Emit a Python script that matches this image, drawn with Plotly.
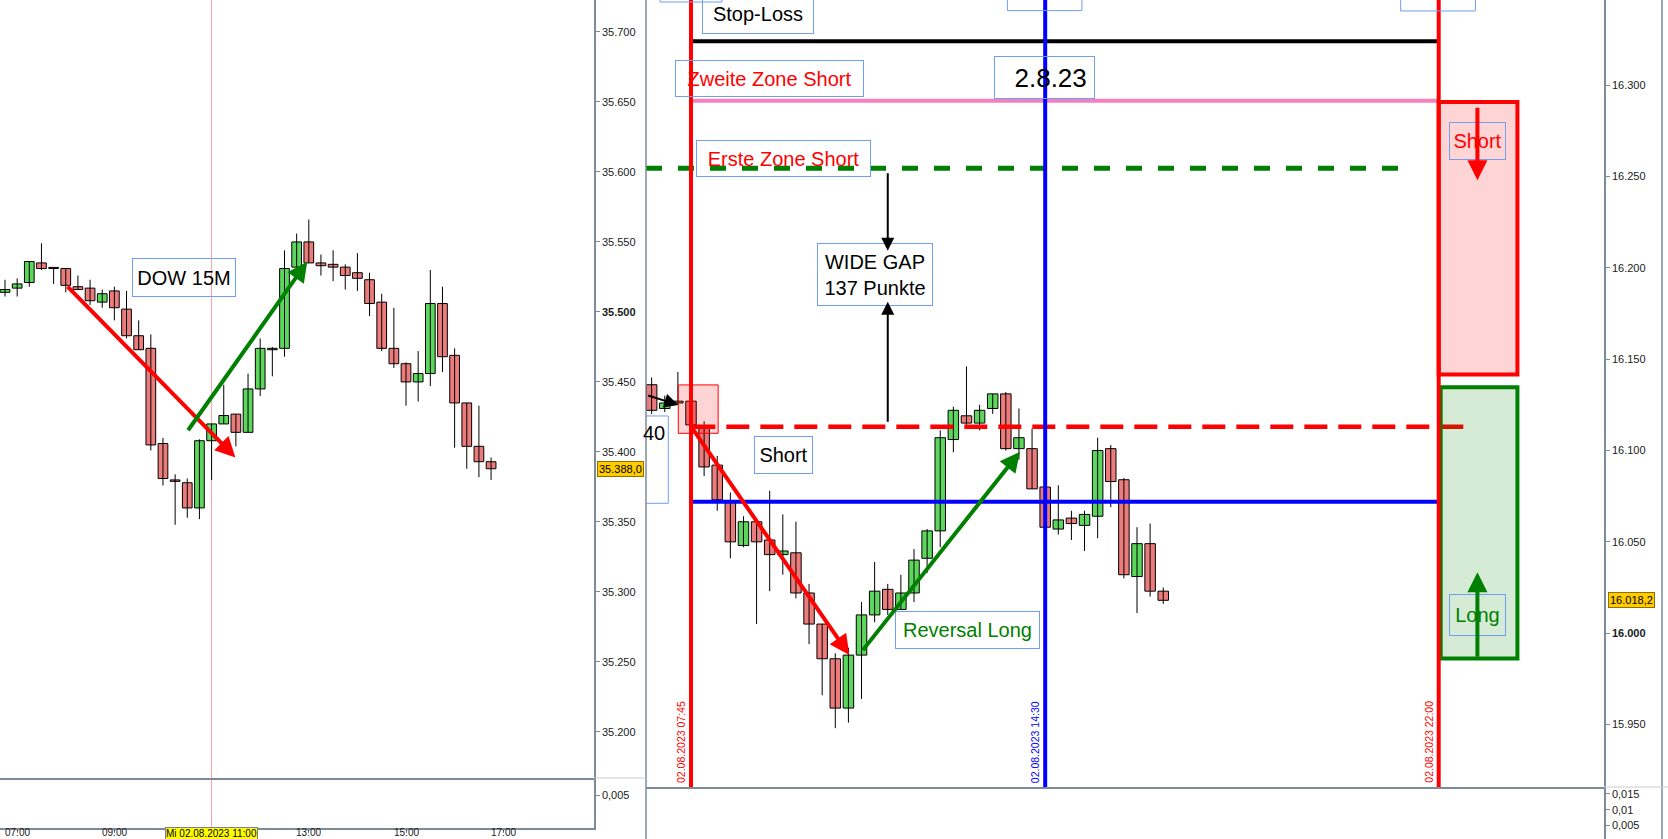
import plotly.graph_objects as go

# ---------------- data ----------------
dow_times = ["06:45", "07:00", "07:15", "07:30", "07:45", "08:00", "08:15", "08:30", "08:45",
             "09:00", "09:15", "09:30", "09:45", "10:00", "10:15", "10:30", "10:45", "11:00",
             "11:15", "11:30", "11:45", "12:00", "12:15", "12:30", "12:45", "13:00", "13:15",
             "13:30", "13:45", "14:00", "14:15", "14:30", "14:45", "15:00", "15:15", "15:30",
             "15:45", "16:00", "16:15", "16:30", "16:45"]
dow_open = [35514, 35517, 35521, 35535, 35531, 35531, 35518, 35517, 35507, 35515, 35502, 35483, 35474,
            35406, 35380, 35378, 35360, 35408, 35420, 35427, 35414, 35445, 35473, 35474, 35532, 35550,
            35535, 35534, 35532, 35528, 35523, 35507, 35474, 35463, 35450, 35456, 35506, 35469, 35435,
            35404, 35393]
dow_high = [35523, 35524, 35536, 35549, 35532, 35531, 35526, 35523, 35516, 35518, 35515, 35494, 35484,
            35410, 35384, 35381, 35409, 35420, 35448, 35427, 35456, 35481, 35475, 35544, 35556, 35566,
            35541, 35544, 35534, 35542, 35528, 35513, 35503, 35464, 35472, 35530, 35518, 35474, 35435,
            35433, 35396]
dow_low = [35511, 35511, 35518, 35530, 35520, 35514, 35516, 35505, 35503, 35494, 35481, 35473, 35401,
           35376, 35348, 35353, 35352, 35380, 35420, 35404, 35414, 35440, 35454, 35468, 35532, 35535,
           35526, 35522, 35516, 35515, 35497, 35472, 35460, 35433, 35436, 35447, 35457, 35403, 35388,
           35382, 35380]
dow_close = [35516, 35520, 35536, 35531, 35531, 35519, 35516, 35508, 35513, 35503, 35483, 35473, 35405,
             35381, 35379, 35360, 35408, 35420, 35426, 35414, 35445, 35474, 35474, 35531, 35550, 35535,
             35533, 35532, 35526, 35524, 35506, 35474, 35463, 35450, 35456, 35506, 35468, 35435, 35404,
             35393, 35388]

ndx_times = ["07:00", "07:15", "07:30", "07:45", "08:00", "08:15", "08:30", "08:45", "09:00", "09:15",
             "09:30", "09:45", "10:00", "10:15", "10:30", "10:45", "11:00", "11:15", "11:30", "11:45",
             "12:00", "12:15", "12:30", "12:45", "13:00", "13:15", "13:30", "13:45", "14:00", "14:15",
             "14:30", "14:45", "15:00", "15:15", "15:30", "15:45", "16:00", "16:15", "16:30", "16:45"]
ndx_open = [16136, 16123, 16126, 16127, 16113, 16092, 16072, 16048, 16061, 16051, 16043, 16044, 16022,
            16005, 15986, 15959, 15988, 16010, 16024, 16013, 16022, 16041, 16056, 16106, 16119, 16115,
            16123, 16131, 16101, 16101, 16080, 16057, 16063, 16059, 16064, 16101, 16084, 16031, 16049,
            16023]
ndx_high = [16140, 16130, 16143, 16128, 16116, 16097, 16077, 16064, 16061, 16078, 16065, 16061, 16027,
            16005, 15989, 15992, 16017, 16039, 16027, 16032, 16046, 16057, 16111, 16124, 16146, 16125,
            16131, 16132, 16123, 16112, 16080, 16081, 16067, 16067, 16107, 16103, 16085, 16058, 16060,
            16025]
ndx_low = [16120, 16121, 16125, 16113, 16086, 16067, 16041, 16047, 16005, 16023, 16032, 16019, 15994,
           15966, 15948, 15951, 15964, 16006, 16010, 16013, 16017, 16033, 16047, 16099, 16114, 16111,
           16120, 16100, 16095, 16079, 16058, 16054, 16051, 16045, 16052, 16069, 16030, 16011, 16020,
           16016]
ndx_close = [16122, 16126, 16127, 16114, 16091, 16073, 16050, 16061, 16050, 16043, 16045, 16022, 16005,
             15986, 15959, 15988, 16010, 16023, 16013, 16022, 16040, 16056, 16107, 16122, 16115, 16122,
             16131, 16101, 16107, 16079, 16058, 16062, 16060, 16065, 16100, 16083, 16032, 16049, 16023,
             16018]

dow_tick_times = ["07:00", "09:00", "13:00", "15:00", "17:00"]
dow_tick_text = ["07:00", "09:00", "13:00", "15:00", "17:00"]
cursor_time = "11:00"
cursor_label = "Mi 02.08.2023 11:00"
dow_y_ticks = [35200, 35250, 35300, 35350, 35400, 35450, 35500, 35550, 35600, 35650, 35700]
ndx_y_ticks = [15950, 16000, 16050, 16100, 16150, 16200, 16250, 16300]

event_times = ["07:45", "14:30", "22:00"]
event_labels = ["02.08.2023 07:45", "02.08.2023 14:30", "02.08.2023 22:00"]

stop_loss = 16324
zone2_short = 16291.5
zone1_short = 16254.5
gap_level = 16113
blue_level = 16072
short_zone = (16141.6, 16290.7)
long_zone = (15986.2, 16134.6)
entry_box = (16109.4, 16135.9)
dow_last = 35388.0
ndx_last = 16018.2

FONT = "Liberation Sans, Arial, sans-serif"
RED_BODY = "#ec7b7b"
GREEN_BODY = "#5cd65c"
AXIS_GRAY = "#7d8b99"
BOX_BORDER = "#6f9ff2"

W, H = 1668, 839


def t2m(t):
    h, m = t.split(":")
    return int(h) * 60 + int(m)


def dow_x(t):
    return (t2m(t) - t2m("06:30")) / 15.0


def ndx_x(t):
    return (t2m(t) - t2m("07:45")) / 15.0


def candle_traces(xs, o, h, l, c, xa, ya, min_h):
    wx, wy = [], []
    for x, hi, lo in zip(xs, h, l):
        wx += [x, x, None]
        wy += [lo, hi, None]
    wicks = go.Scatter(x=wx, y=wy, mode="lines", line=dict(color="black", width=1),
                       xaxis=xa, yaxis=ya, hoverinfo="skip", showlegend=False)
    base = [min(a, b) for a, b in zip(o, c)]
    height = [max(abs(b - a), min_h) for a, b in zip(o, c)]
    cols = [GREEN_BODY if b > a else RED_BODY for a, b in zip(o, c)]
    bodies = go.Bar(x=xs, y=height, base=base, width=0.8,
                    marker=dict(color=cols, line=dict(color="black", width=1)),
                    xaxis=xa, yaxis=ya, hoverinfo="skip", showlegend=False)
    return [wicks, bodies]


dx = [dow_x(t) for t in dow_times]
nx = [ndx_x(t) for t in ndx_times]

fig = go.Figure()
for tr in candle_traces(dx, dow_open, dow_high, dow_low, dow_close, "x", "y", 0.8):
    fig.add_trace(tr)
for tr in candle_traces(nx, ndx_open, ndx_high, ndx_low, ndx_close, "x3", "y3", 0.6):
    fig.add_trace(tr)
fig.add_trace(go.Scatter(x=[None], y=[None], xaxis="x2", yaxis="y2", showlegend=False))
fig.add_trace(go.Scatter(x=[None], y=[None], xaxis="x4", yaxis="y4", showlegend=False))

# ---------------- geometry ----------------
left_dom = [0, 594 / W]
right_dom = [646 / W, 1604 / W]
left_main = [1 - 778 / H, 1]
left_low = [1 - 828 / H, 1 - 778 / H]
right_main = [1 - 787 / H, 1]
right_low = [0, 1 - 787 / H]

dow_xrange = [0.588, 49.47]
ndx_xrange = [-3.43, 69.6]

tickfont = dict(family=FONT, size=11, color="#1a1a1a")


def yaxis_common(**kw):
    d = dict(showgrid=False, zeroline=False, showline=True, linecolor=AXIS_GRAY, linewidth=1.5,
             ticks="outside", ticklen=4, tickcolor=AXIS_GRAY, tickfont=tickfont, side="right",
             fixedrange=True, automargin=False)
    d.update(kw)
    return d


def xaxis_common(**kw):
    d = dict(showgrid=False, zeroline=False, showline=True, linecolor=AXIS_GRAY, linewidth=1.5,
             fixedrange=True, automargin=False, showticklabels=False, ticks="")
    d.update(kw)
    return d


def fmt_de(v):
    return f"{v:,}".replace(",", ".")


fig.update_layout(
    width=W, height=H, margin=dict(l=0, r=0, t=0, b=0),
    paper_bgcolor="white", plot_bgcolor="white", showlegend=False, hovermode=False,
    barmode="overlay",
    xaxis=xaxis_common(domain=left_dom, anchor="y", range=dow_xrange),
    yaxis=yaxis_common(domain=left_main, anchor="x", range=[35167.1, 35722.8],
                       tickvals=dow_y_ticks,
                       ticktext=[f"<b>{fmt_de(v)}</b>" if v == 35500 else fmt_de(v) for v in dow_y_ticks]),
    xaxis2=xaxis_common(domain=left_dom, anchor="y2", range=dow_xrange,
                        ticks="outside", ticklen=3, tickcolor=AXIS_GRAY,
                        tickvals=[dow_x(t) for t in dow_tick_times + [cursor_time]]),
    yaxis2=yaxis_common(domain=left_low, anchor="x2", range=[0, 0.00758], tickvals=[0.005], ticktext=["0,005"]),
    xaxis3=xaxis_common(domain=right_dom, anchor="y3", range=ndx_xrange),
    yaxis3=yaxis_common(domain=right_main, anchor="x3", range=[15915.8, 16346.6],
                        tickvals=ndx_y_ticks,
                        ticktext=[f"<b>{fmt_de(v)}</b>" if v == 16000 else fmt_de(v) for v in ndx_y_ticks]),
    xaxis4=xaxis_common(domain=right_dom, anchor="y4", range=ndx_xrange, showline=False),
    yaxis4=yaxis_common(domain=right_low, anchor="x4", range=[0.00071, 0.01722],
                        tickvals=[0.005, 0.01, 0.015], ticktext=["0,005", "0,01", "0,015"]),
)

shapes = []
shapes.append(dict(type="line", xref="x", yref="paper", x0=dow_x(cursor_time), x1=dow_x(cursor_time),
                   y0=left_low[0], y1=1, line=dict(color="#f4a3a3", width=1), layer="below"))

ev = [ndx_x(t) for t in event_times]
shapes.append(dict(type="line", xref="x3", yref="y3", x0=ev[0], x1=ev[2], y0=stop_loss, y1=stop_loss,
                   line=dict(color="black", width=4)))
shapes.append(dict(type="line", xref="x3", yref="y3", x0=ev[0], x1=ev[2], y0=zone2_short, y1=zone2_short,
                   line=dict(color="#f580c0", width=4)))
shapes.append(dict(type="line", xref="x3", yref="y3", x0=ndx_xrange[0], x1=54.1, y0=zone1_short, y1=zone1_short,
                   line=dict(color="#008000", width=5, dash="16px,16px")))
shapes.append(dict(type="line", xref="x3", yref="y3", x0=ev[0] + 0.1, x1=59.3, y0=gap_level, y1=gap_level,
                   line=dict(color="#ff0000", width=4.5, dash="23px,11px")))
shapes.append(dict(type="line", xref="x3", yref="y3", x0=ev[0], x1=ev[2], y0=blue_level, y1=blue_level,
                   line=dict(color="#0000ff", width=4)))
shapes.append(dict(type="rect", xref="x3", yref="y3", x0=-0.97, x1=2.07, y0=entry_box[0], y1=entry_box[1],
                   fillcolor="rgba(255,0,0,0.17)", line=dict(color="#ff0000", width=1)))
shapes.append(dict(type="rect", xref="x3", yref="y3", x0=ev[2], x1=63.0, y0=short_zone[0], y1=short_zone[1],
                   fillcolor="rgba(255,0,0,0.17)", line=dict(color="#ff0000", width=4)))
shapes.append(dict(type="rect", xref="x3", yref="y3", x0=ev[2] + 0.15, x1=63.0, y0=long_zone[0], y1=long_zone[1],
                   fillcolor="rgba(0,128,0,0.16)", line=dict(color="#008000", width=4)))
for x, col in zip(ev, ["#ff0000", "#0000ff", "#ff0000"]):
    shapes.append(dict(type="line", xref="x3", yref="y3 domain", x0=x, x1=x, y0=0, y1=1,
                       line=dict(color=col, width=4)))
shapes.append(dict(type="rect", xref="x3", yref="y3", x0=-4.65, x1=-1.73, y0=16071.1, y1=16118.9,
                   line=dict(color=BOX_BORDER, width=1)))
for x0, x1, y0 in [(-2.36, 2.36, 16345.5), (24.12, 29.8, 16340.8), (54.1, 59.8, 16340.6)]:
    shapes.append(dict(type="rect", xref="x3", yref="y3", x0=x0, x1=x1, y0=y0, y1=16400,
                       line=dict(color=BOX_BORDER, width=1)))
shapes.append(dict(type="line", xref="paper", yref="paper", x0=646 / W, x1=646 / W, y0=0, y1=1,
                   line=dict(color=AXIS_GRAY, width=1.5)))
shapes.append(dict(type="line", xref="paper", yref="paper", x0=1662 / W, x1=1662 / W, y0=0, y1=1,
                   line=dict(color=AXIS_GRAY, width=1.5)))
shapes.append(dict(type="line", xref="paper", yref="paper", x0=594 / W, x1=646 / W, y0=left_main[0], y1=left_main[0],
                   line=dict(color="#c8ced4", width=1)))
shapes.append(dict(type="line", xref="paper", yref="paper", x0=1604 / W, x1=1, y0=right_main[0], y1=right_main[0],
                   line=dict(color="#c8ced4", width=1)))
fig.update_layout(shapes=shapes)

ann = []


def box(x, y, text, w, h, color="black", size=20, xref="x3", yref="y3", align="center"):
    return dict(x=x, y=y, xref=xref, yref=yref, text=text, showarrow=False, width=w, height=h,
                align=align, valign="middle", bordercolor=BOX_BORDER, borderwidth=1, borderpad=0,
                font=dict(family=FONT, size=size, color=color))


def arrow(x0, y0, x1, y1, color, width, size, xref="x3", yref="y3"):
    return dict(x=x1, y=y1, ax=x0, ay=y0, xref=xref, yref=yref, axref=xref, ayref=yref, text="",
                showarrow=True, arrowhead=2, arrowsize=size, arrowwidth=width, arrowcolor=color,
                standoff=0, startstandoff=0)


ann.append(box(15.76, 35524.9, "DOW 15M", 102, 37, xref="x", yref="y"))
ann.append(box(5.07, 16338.9, "Stop-Loss", 110, 38))
ann.append(box(6.02, 16303.5, "Zweite Zone Short", 187, 35, color="#ff0000"))
ann.append(box(26.97, 16304.3, "2.8.23 ", 99, 41, size=26, align="right"))
ann.append(box(7.04, 16259.9, "Erste Zone Short", 173, 35, color="#ff0000"))
ann.append(box(14.06, 16196.1, "WIDE GAP<br>137 Punkte", 114, 61))
ann.append(box(7.07, 16097.8, "Short", 57, 36))
ann.append(box(21.06, 16001.5, "Reversal Long", 143, 36, color="#008000"))
ann.append(box(59.95, 16269.4, "Short", 55, 36, color="#ff0000"))
ann.append(box(59.95, 16009.9, "Long", 55, 40, color="#008000"))
ann.append(dict(x=-1.85, y=16109.6, xref="x3", yref="y3", text="40", showarrow=False, xanchor="right",
                font=dict(family=FONT, size=20, color="black")))

ann.append(arrow(6.03, 35519.2, 19.96, 35396.1, "#ff0000", 4, 1, "x", "y"))
ann.append(arrow(15.98, 35414.4, 25.87, 35535.9, "#008000", 4, 1, "x", "y"))
ann.append(arrow(0.05, 16112.7, 12.07, 15988.1, "#ff0000", 4, 1))
ann.append(arrow(13.01, 15989.9, 25.08, 16099.3, "#008000", 4, 1))
ann.append(arrow(-3.38, 16130.4, -0.97, 16124.9, "black", 2, 1.4))
ann.append(arrow(15.0, 16252.6, 15.0, 16209.4, "black", 2, 1.3))
ann.append(arrow(15.0, 16114.9, 15.0, 16181.4, "black", 2, 1.3))
ann.append(arrow(59.95, 16288.5, 59.95, 16248.0, "#ff0000", 4, 1))
ann.append(arrow(59.95, 15986.3, 59.95, 16033.4, "#008000", 4, 1))

for x, lab, col in zip(ev, event_labels, ["#ff0000", "#0000ff", "#ff0000"]):
    ann.append(dict(x=x, y=1 - 785 / H, xref="x3", yref="paper", text=lab, textangle=-90, showarrow=False,
                    xanchor="right", yanchor="bottom", xshift=-2,
                    font=dict(family=FONT, size=10.5, color=col)))


def fmt_tag(v):
    return f"{v:,.1f}".replace(",", "X").replace(".", ",").replace("X", ".")


ann.append(dict(x=597 / W, y=dow_last, xref="paper", yref="y", text=fmt_tag(dow_last),
                showarrow=False, xanchor="left", bgcolor="#ffcc00", bordercolor="#8c7000", borderwidth=1,
                borderpad=1, font=dict(family=FONT, size=11, color="black")))
ann.append(dict(x=1608 / W, y=ndx_last, xref="paper", yref="y3", text=fmt_tag(ndx_last),
                showarrow=False, xanchor="left", bgcolor="#ffcc00", bordercolor="#8c7000", borderwidth=1,
                borderpad=1, font=dict(family=FONT, size=11, color="black")))

for t, lab in zip(dow_tick_times, dow_tick_text):
    ann.append(dict(x=dow_x(t), y=0, xref="x", yref="paper", text=lab, showarrow=False,
                    yanchor="bottom", yshift=-1, font=dict(family=FONT, size=10, color="#1a1a1a")))
ann.append(dict(x=dow_x(cursor_time), y=0, xref="x", yref="paper", text=cursor_label,
                showarrow=False, yanchor="bottom", yshift=-1, bgcolor="#ffff00", bordercolor="#808080",
                borderwidth=1, borderpad=0, font=dict(family=FONT, size=10, color="black")))

fig.update_layout(annotations=ann)

fig.write_html("out.html", config={"displayModeBar": False},
               post_script="document.body.style.margin='0px';document.body.style.overflow='hidden';")
